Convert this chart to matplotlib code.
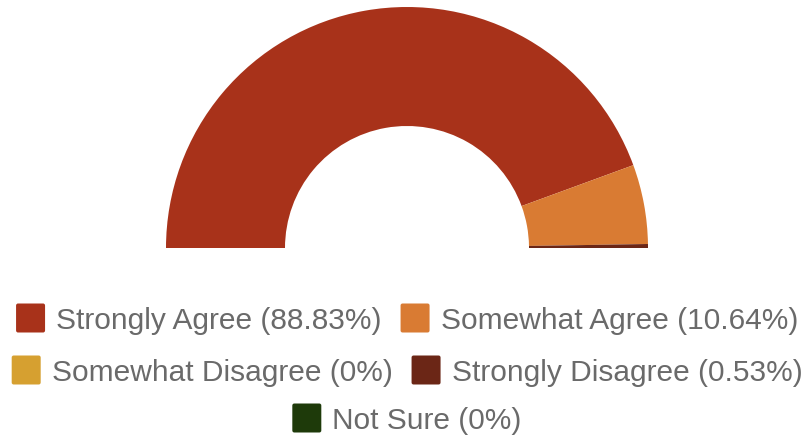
import matplotlib.pyplot as plt
from matplotlib.patches import FancyBboxPatch

labels = ["Strongly Agree", "Somewhat Agree", "Somewhat Disagree", "Strongly Disagree", "Not Sure"]
values = [88.83, 10.64, 0, 0.53, 0]
colors = ["#a8321a", "#d97b33", "#d6a030", "#6b2616", "#1e3a0a"]
legend_rows = [[0, 1], [2, 3], [4]]

W, H = 804, 437
fig = plt.figure(figsize=(W / 100, H / 100), dpi=100)
ax = fig.add_axes([0, 0, 1, 1])
ax.set_xlim(0, W)
ax.set_ylim(0, H)
ax.axis("off")

# half donut: add an invisible filler equal to the total to get the bottom half
cx, cy, r = 407, H - 248, 241
ring = 119
ax.pie(values + [sum(values)], colors=colors + ["none"], startangle=180,
       counterclock=False, center=(cx, cy), radius=r, frame=True,
       wedgeprops=dict(width=ring, linewidth=0))
ax.set_xlim(0, W)
ax.set_ylim(0, H)
ax.set_aspect("auto")
ax.axis("off")

# legend, each row centred under the chart
sq, gap_txt, gap_item = 29, 11, 19
row_y = [318, 370, 418]
fig.canvas.draw()
renderer = fig.canvas.get_renderer()
for row, yc in zip(legend_rows, row_y):
    texts = []
    for i in row:
        t = ax.text(0, H - yc, f"{labels[i]} ({values[i]:g}%)", fontsize=21.5,
                    family="Liberation Sans", color="#6a6a6a", va="center_baseline")
        texts.append(t)
    widths = [t.get_window_extent(renderer).width for t in texts]
    total = sum(sq + gap_txt + w for w in widths) + gap_item * (len(row) - 1)
    x = cx - total / 2
    for i, t, w in zip(row, texts, widths):
        ax.add_patch(FancyBboxPatch((x + 1, H - yc - sq / 2 + 1), sq - 2, sq - 2,
                                    boxstyle="round,pad=1,rounding_size=2",
                                    facecolor=colors[i], edgecolor="none"))
        t.set_x(x + sq + gap_txt)
        x += sq + gap_txt + w + gap_item

fig.savefig("out.png", dpi=100, facecolor="white")
